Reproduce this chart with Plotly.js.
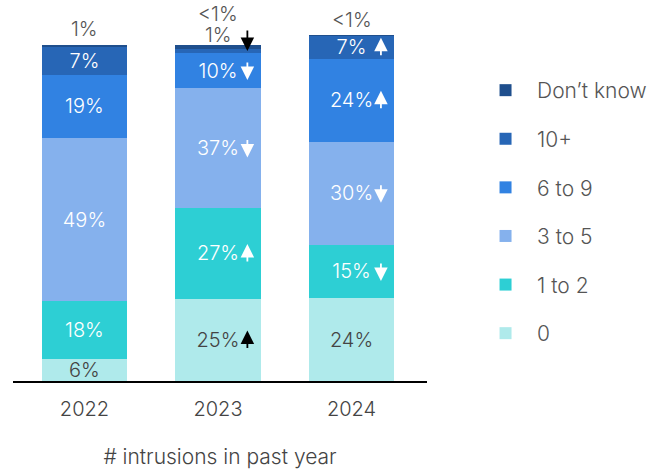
<!DOCTYPE html>
<html>
<head>
<meta charset="utf-8">
<script src="https://cdn.plot.ly/plotly-3.0.1.min.js"></script>
<style>html,body{margin:0;padding:0;background:#fff;}#chart{width:664px;height:469px;}</style>
</head>
<body>
<div id="chart"></div>
<script>
// ---- data ----
var years = ['2022', '2023', '2024'];
var seriesNames = ['0', '1 to 2', '3 to 5', '6 to 9', '10+', 'Don\u2019t know'];

var zero        = [6.5, 24.4, 24.7];
var oneToTwo    = [17.3, 27.1, 15.8];
var threeToFive = [48.5, 35.7, 30.7];
var sixToNine   = [18.8, 10.4, 24.7];
var tenPlus     = [8.3, 1.2, 6.8];
var dontKnow    = [0.6, 1.1, 0.2];

var zeroLabels        = ['6%', '25%', '24%'];
var oneToTwoLabels    = ['18%', '27%', '15%'];
var threeToFiveLabels = ['49%', '37%', '30%'];
var sixToNineLabels   = ['19%', '10%', '24%'];
var tenPlusLabels     = ['7%', '1%', '7%'];
var dontKnowLabels    = ['1%', '<1%', '<1%'];

// significant change vs previous year: 'up', 'down' or ''
var zeroChange        = ['', 'up', ''];
var oneToTwoChange    = ['', 'up', 'down'];
var threeToFiveChange = ['', 'down', 'down'];
var sixToNineChange   = ['', 'down', 'up'];
var tenPlusChange     = ['', 'down', 'up'];
var dontKnowChange    = ['', '', ''];

// label drawn above the bar instead of inside (segment too thin)
var zeroOutside        = [false, false, false];
var oneToTwoOutside    = [false, false, false];
var threeToFiveOutside = [false, false, false];
var sixToNineOutside   = [false, false, false];
var tenPlusOutside     = [false, true, false];
var dontKnowOutside    = [true, true, true];

// ---- styles ----
var colors = ['#afeaeb', '#2dcfd4', '#85b1ed', '#3182e2', '#2766b6', '#1f4f8d'];
var textColors = ['#444444', '#ffffff', '#ffffff', '#ffffff', '#ffffff', '#ffffff'];
var FONT = 'Inter, "Noto Sans", sans-serif';

var values = [zero, oneToTwo, threeToFive, sixToNine, tenPlus, dontKnow];
var labels = [zeroLabels, oneToTwoLabels, threeToFiveLabels, sixToNineLabels, tenPlusLabels, dontKnowLabels];
var changes = [zeroChange, oneToTwoChange, threeToFiveChange, sixToNineChange, tenPlusChange, dontKnowChange];
var outside = [zeroOutside, oneToTwoOutside, threeToFiveOutside, sixToNineOutside, tenPlusOutside, dontKnowOutside];

var traces = [];
for (var s = 0; s < values.length; s++) {
  traces.push({
    type: 'bar',
    name: seriesNames[s],
    x: years,
    y: values[s],
    text: labels[s].map(function (t, i) { return outside[s][i] ? '' : t; }),
    textposition: 'inside',
    insidetextanchor: 'middle',
    constraintext: 'none',
    textfont: {family: FONT, size: 20, color: textColors[s], weight: 300},
    marker: {color: colors[s], line: {width: 0}},
    width: 0.64,
    legendgroup: 'g' + s,
    legendrank: 100 - s,
    hoverinfo: 'skip'
  });
}

var annotations = [];
var ARROW_DX = 0.22;
for (var i = 0; i < years.length; i++) {
  var cum = 0;
  var total = 0;
  for (var s2 = 0; s2 < values.length; s2++) total += values[s2][i];
  var outsideCount = 0;
  for (var s3 = 0; s3 < values.length; s3++) if (outside[s3][i]) outsideCount++;
  var k = 0;
  for (var s = 0; s < values.length; s++) {
    var v = values[s][i];
    var mid = cum + v / 2;
    if (outside[s][i]) {
      var shift = (outsideCount > 1 ? 11 : 16) + 21 * k;
      annotations.push({
        x: i, y: total, xref: 'x', yref: 'y', text: labels[s][i], showarrow: false,
        yanchor: 'middle', yshift: shift, height: 19, valign: 'middle',
        font: {family: FONT, size: 20, color: '#555555', weight: 300}
      });
      if (changes[s][i]) {
        var up = changes[s][i] === 'up';
        annotations.push({
          x: i + ARROW_DX, y: mid, xref: 'x', yref: 'y', text: '', showarrow: true,
          arrowhead: 2, arrowsize: 1.5, arrowwidth: 1.8, arrowcolor: '#000000',
          ax: 0, ay: up ? 20 : -22, yshift: up ? 10 : 0
        });
      }
      k++;
    } else if (changes[s][i]) {
      var up2 = changes[s][i] === 'up';
      annotations.push({
        x: i + ARROW_DX, y: mid, xref: 'x', yref: 'y', text: '', showarrow: true,
        arrowhead: 2, arrowsize: 1.5, arrowwidth: 1.8,
        arrowcolor: s === 0 ? '#000000' : '#ffffff',
        ax: 0, ay: up2 ? 19 : -19, yshift: up2 ? 9.5 : -9.5
      });
    }
    cum += v;
  }
}

var layout = {
  width: 664, height: 469,
  margin: {l: 13, r: 234, t: 30, b: 88, pad: 0},
  paper_bgcolor: '#ffffff', plot_bgcolor: '#ffffff',
  barmode: 'stack',
  bargap: 0.36,
  showlegend: true,
  font: {family: FONT, color: '#555555', size: 18, weight: 300},
  xaxis: {
    type: 'category',
    range: [-0.535, 2.565],
    showline: true, linecolor: '#000000', linewidth: 2,
    showgrid: false, zeroline: false,
    ticks: '', ticklabelstandoff: 9,
    tickfont: {family: FONT, size: 20, color: '#444444', weight: 300},
    title: {text: '# intrusions in past year', standoff: 29,
            font: {family: FONT, size: 21, color: '#444444', weight: 300}},
    automargin: false, fixedrange: true
  },
  yaxis: {
    range: [0, 104.46],
    visible: false, showgrid: false, zeroline: false,
    automargin: false, fixedrange: true
  },
  legend: {
    x: 1.1136, xanchor: 'left', xref: 'paper',
    y: 0.886, yanchor: 'top',
    traceorder: 'grouped',
    tracegroupgap: 18.3,
    itemwidth: 53,
    font: {family: FONT, size: 21, color: '#555555', weight: 300},
    bgcolor: 'rgba(0,0,0,0)'
  },
  annotations: annotations
};

Plotly.newPlot('chart', traces, layout, {displayModeBar: false, staticPlot: true});
</script>
</body>
</html>
